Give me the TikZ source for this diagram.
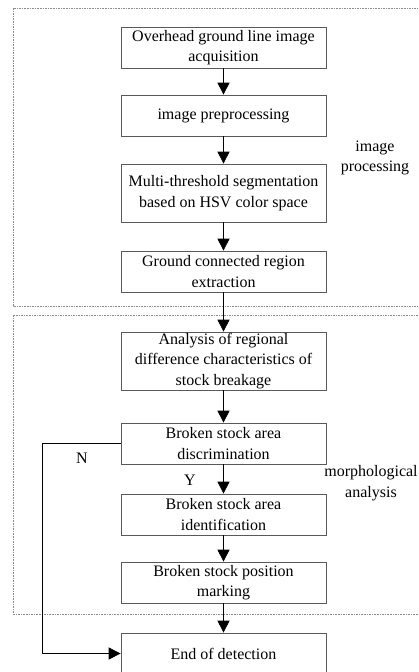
\documentclass[tikz,border=0pt]{standalone}
\usepackage{fontspec}
\setmainfont{Liberation Serif}
\usepackage{tikz}
\usetikzlibrary{arrows.meta}

\tikzset{
  stepbox/.style={draw=black!65, line width=0.7pt, minimum width=205pt,
    align=center, inner sep=1pt, font=\fontsize{16}{20.6}\selectfont},
  groupbox/.style={draw=black!45, line width=0.6pt, dash pattern=on 1.6pt off 1pt},
  arr/.style={-{Triangle[length=12pt,width=12pt]}, line width=0.7pt},
  sidetext/.style={align=center, font=\fontsize{16}{20.6}\selectfont}
}

\begin{document}
\begin{tikzpicture}[x=1pt, y=-1pt]
  \clip (0,0) rectangle (418,672);
  \fill[white] (0,0) rectangle (418,672);
  % dashed groups
  \draw[groupbox] (13,8) rectangle (430,306);
  \draw[groupbox] (13,315) rectangle (430,614);
  % steps
  \node[stepbox, minimum height=41pt] (b1) at (223.5,47.5) {Overhead ground line image\\acquisition};
  \node[stepbox, minimum height=41pt] (b2) at (223.5,115.5) {image preprocessing};
  \node[stepbox, minimum height=58pt] (b3) at (223.5,193) {Multi-threshold segmentation\\based on HSV color space};
  \node[stepbox, minimum height=41pt] (b4) at (223.5,271.5) {Ground connected region\\extraction};
  \node[stepbox, minimum height=58pt] (b5) at (223.5,361) {Analysis of regional\\difference characteristics of\\stock breakage};
  \node[stepbox, minimum height=41pt] (b6) at (223.5,443.5) {Broken stock area\\discrimination};
  \node[stepbox, minimum height=41pt] (b7) at (223.5,514.5) {Broken stock area\\identification};
  \node[stepbox, minimum height=41pt] (b8) at (223.5,582.5) {Broken stock position\\marking};
  \node[stepbox, minimum height=41pt] (b9) at (223.5,653.5) {End of detection};
  % group labels
  \node[sidetext] (imgproc) at (375,158) {image\\processing};
  \node[sidetext] (morph) at (371,483) {morphological\\analysis};
  % flow
  \path[arr]
  (b1) edge (b2)
  (b2) edge (b3)
  (b3) edge (b4)
  (b4) edge (b5)
  (b5) edge (b6)
  (b6) edge (b7)
  (b7) edge (b8)
  (b8) edge (b9)
  ;
  \draw[arr] (b6.west) -- ++(-78,0) |- (b9.west);
  \node[sidetext] (nlabel) at (82,458) {N};
  \node[sidetext] (ylabel) at (190,480) {Y};
\end{tikzpicture}
\end{document}
